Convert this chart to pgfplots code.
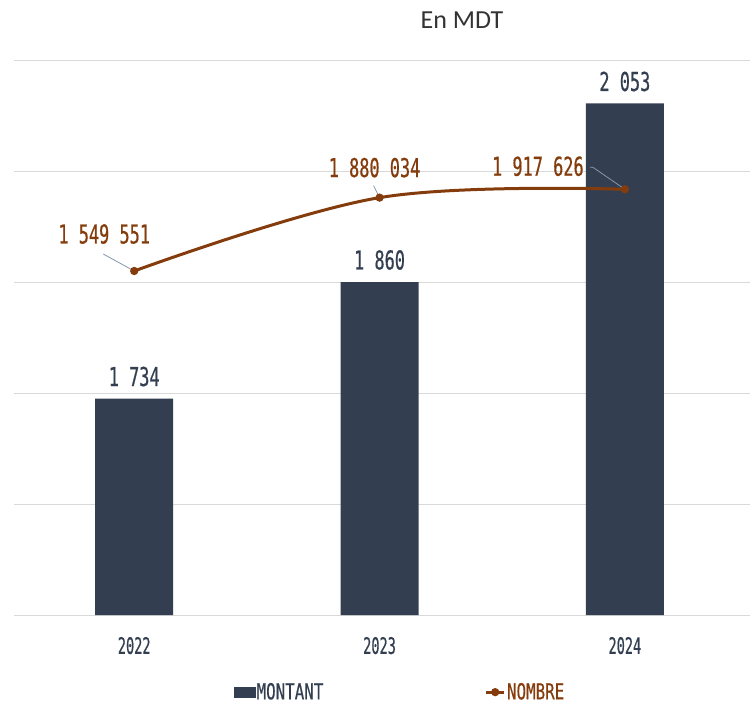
\documentclass[border=0pt]{standalone}
\usepackage{fontspec}
\setmainfont{Carlito}
\newfontfamily\monoA[FakeStretch=0.65,FakeBold=0.6]{DejaVu Sans Mono}
\newfontfamily\monoB[FakeStretch=0.60,FakeBold=0.5]{DejaVu Sans Mono}
\newfontfamily\monoC[FakeStretch=0.72,FakeBold=0.4]{DejaVu Sans Mono}
\usepackage{pgfplots}
\pgfplotsset{compat=1.18}
\definecolor{barc}{HTML}{333F50}
\definecolor{linec}{HTML}{843C0C}
\definecolor{gridc}{HTML}{D9D9D9}
\definecolor{leadc}{HTML}{8497B0}
\begin{document}
\begin{tikzpicture}
\path[use as bounding box] (0,0) rectangle (564.75pt,530.25pt);
\node[font=\fontsize{19.5}{22}\selectfont, text=black!80] at (346.5pt,515.25pt) {En MDT};
\begin{axis}[at={(10.5pt,69pt)}, anchor=south west, scale only axis,
  width=552pt, height=416.25pt,
  xmin=-0.49, xmax=2.51, ymin=1500, ymax=2100,
  ytick={1500,1620,1740,1860,1980,2100}, yticklabels={},
  ymajorgrids, grid style={gridc, line width=0.75pt},
  axis line style={draw=none}, major tick length=0pt,
  xtick={0,1,2}, xticklabels={2022,2023,2024},
  xticklabel style={font=\monoB\fontsize{17}{18}\selectfont, text=barc, yshift=-13pt},
  clip=false]
\addplot[ybar, bar width=58.5pt, fill=barc, draw=none,
  point meta=explicit symbolic, nodes near coords,
  every node near coord/.append style={anchor=center, yshift=16.5pt, text=barc, font=\monoA\fontsize{19.5}{22}\selectfont}]
  coordinates {(0,1734) [1 734] (1,1860) [1 860] (2,2053) [2 053]};
\end{axis}
\begin{axis}[at={(10.5pt,69pt)}, anchor=south west, scale only axis,
  width=552pt, height=416.25pt,
  xmin=-0.49, xmax=2.51, ymin=0, ymax=2500000,
  hide axis, clip=false,
  legend columns=2,
  legend style={draw=none, fill=none, at={(0.524,-0.139)}, anchor=center,
    font=\monoC\fontsize{16.5}{18}\selectfont, inner sep=0pt,
    nodes={inner xsep=1pt},
    /tikz/every even column/.append style={column sep=120pt}}]
\addlegendimage{legend image code/.code={\fill[barc] (0pt,-3.75pt) rectangle (15.75pt,3.75pt);}}
\addlegendentry[text=barc]{MONTANT}
\addplot[linec, line width=2.25pt, smooth, tension=0.6, mark=*, mark size=1.9pt,
  legend image code/.code={\draw[linec,line width=2.25pt] (0pt,0pt)--(13.5pt,0pt); \fill[linec] (6.75pt,0pt) circle (1.9pt);}]
  coordinates {(0,1549551) (1,1880034) (2,1917626)};
\addlegendentry[text=linec]{NOMBRE}
\draw[leadc, line width=0.6pt] ([xshift=-23.25pt,yshift=12.75pt]axis cs:0,1549551) -- (axis cs:0,1549551);
\draw[leadc, line width=0.6pt] ([xshift=-4.5pt,yshift=9pt]axis cs:1,1880034) -- (axis cs:1,1880034);
\draw[leadc, line width=0.6pt] ([xshift=-26.25pt,yshift=16.5pt]axis cs:2,1917626) -- ([xshift=-24pt,yshift=16.5pt]axis cs:2,1917626) -- (axis cs:2,1917626);
\node[font=\monoA\fontsize{19.5}{22}\selectfont, text=linec] at ([xshift=-22.5pt,yshift=27.75pt]axis cs:0,1549551) {1 549 551};
\node[font=\monoA\fontsize{19.5}{22}\selectfont, text=linec] at ([xshift=-3.75pt,yshift=22.5pt]axis cs:1,1880034) {1 880 034};
\node[font=\monoA\fontsize{19.5}{22}\selectfont, text=linec] at ([xshift=-65.25pt,yshift=17.25pt]axis cs:2,1917626) {1 917 626};
\end{axis}
\end{tikzpicture}
\end{document}
